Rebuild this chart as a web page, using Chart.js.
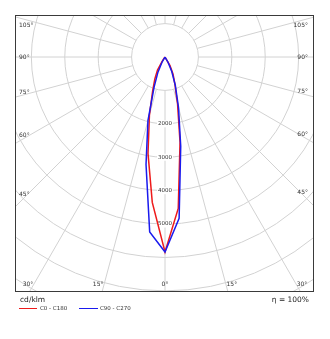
<!DOCTYPE html>
<html>
<head>
<meta charset="utf-8">
<script src="https://cdn.jsdelivr.net/npm/chart.js@4.4.1/dist/chart.umd.min.js"></script>
<style>
html,body{margin:0;padding:0;background:#fff;}
#wrap{width:330px;height:339px;}
</style>
</head>
<body>
<div id="wrap"><canvas id="polar" width="330" height="339"></canvas></div>
<script>
/* ========= DATA ========= */
// gamma angles (deg from nadir) and intensities in cd/klm
const GAMMA = [0, 5, 10, 15, 20, 25, 30, 35, 40];
const C0    = [5840, 4550, 2590, 1450, 870, 570, 300, 0, 0];    // right half, red
const C180  = [5840, 4370, 2930, 1800, 1080, 720, 450, 120, 0]; // left half, red
const C90   = [5840, 4850, 2710, 1560, 900, 480, 180, 0, 0];    // right half, blue
const C270  = [5840, 5260, 3270, 1970, 950, 500, 180, 0, 0];    // left half, blue

const SERIES_LABELS = ["C0 - C180", "C90 - C270"];
const RINGS = [1000, 2000, 3000, 4000, 5000, 6000, 7000, 8000];
const RING_LABELS = [2000, 3000, 4000, 5000];
const ANGLE_TICKS = [0, 15, 30, 45, 60, 75, 90, 105];
const UNIT = "cd/klm";
const ETA = "η = 100%";

/* ========= STYLE ========= */
const RED = "#ee1a1a";
const BLUE = "#1a1aee";
const GRID = "#d2d2d2";
const TXT = "#333";
const FONT = "DejaVu Sans";

/* ========= BUILD ========= */
function plane(right, left){
  const pts = [];
  for(let i = GAMMA.length - 1; i >= 0; i--){
    const g = GAMMA[i] * Math.PI / 180;
    pts.push({x: -left[i] * Math.sin(g), y: -left[i] * Math.cos(g)});
  }
  for(let i = 1; i < GAMMA.length; i++){
    const g = GAMMA[i] * Math.PI / 180;
    pts.push({x: right[i] * Math.sin(g), y: -right[i] * Math.cos(g)});
  }
  return pts;
}

/* ========= GRID / LABELS ========= */
const polarGrid = {
  id: "polarGrid",
  beforeDatasetsDraw(chart){
    const {ctx, chartArea: a, scales: {x, y}} = chart;
    const cx = x.getPixelForValue(0), cy = y.getPixelForValue(0);
    const rpx = v => x.getPixelForValue(v) - cx;
    ctx.save();
    ctx.beginPath();
    ctx.rect(a.left, a.top, a.right - a.left, a.bottom - a.top);
    ctx.clip();
    ctx.strokeStyle = GRID;
    ctx.lineWidth = 1;
    RINGS.forEach(r => {
      ctx.beginPath();
      ctx.arc(cx, cy, rpx(r), 0, Math.PI * 2);
      ctx.stroke();
    });
    const r0 = rpx(RINGS[0]), r1 = rpx(12000);
    for(let d = 0; d < 360; d += 15){
      const t = d * Math.PI / 180, sx = Math.sin(t), sy = Math.cos(t);
      ctx.beginPath();
      ctx.moveTo(cx + sx * r0, cy + sy * r0);
      ctx.lineTo(cx + sx * r1, cy + sy * r1);
      ctx.stroke();
    }
    ctx.font = "5.5px " + FONT;
    ctx.textAlign = "center";
    ctx.textBaseline = "middle";
    RING_LABELS.forEach(v => {
      const py = cy + rpx(v);
      const w = ctx.measureText(String(v)).width;
      ctx.fillStyle = "#fff";
      ctx.fillRect(cx - w / 2 - 1, py - 3.5, w + 2, 7);
      ctx.fillStyle = TXT;
      ctx.fillText(String(v), cx, py);
    });
    ctx.restore();
  },
  afterDatasetsDraw(chart){
    const {ctx, chartArea: a, scales: {x, y}} = chart;
    const cx = x.getPixelForValue(0), cy = y.getPixelForValue(0);
    ctx.save();
    // frame
    ctx.strokeStyle = "#3a3a3a";
    ctx.lineWidth = 1;
    ctx.strokeRect(a.left - 0.5, a.top - 0.5, a.right - a.left + 1, a.bottom - a.top + 1);

    // angle labels
    ctx.font = "6px " + FONT;
    ctx.fillStyle = TXT;
    ctx.textBaseline = "middle";
    const inL = a.left + 10, inR = a.right - 11, inB = a.bottom - 7;
    ANGLE_TICKS.forEach(deg => {
      [-1, 1].forEach(side => {
        if(deg === 0 && side === 1) return;
        const t = deg * Math.PI / 180;
        const dx = side * Math.sin(t), dy = Math.cos(t);
        const txt = deg + "°";
        const tSide = dx !== 0 ? ((side < 0 ? inL : inR) - cx) / dx : Infinity;
        const tBot = dy > 0 ? (inB - cy) / dy : Infinity;
        if(tBot < tSide){
          const px = cx + dx * tBot;
          ctx.textAlign = "center";
          ctx.fillText(txt, deg === 0 ? px : px + side * 6, inB);
        } else {
          let py = cy + dy * tSide;
          if(deg < 90) py -= 2;
          py = Math.max(py, a.top + 9);
          ctx.textAlign = side < 0 ? "left" : "right";
          ctx.fillText(txt, side < 0 ? a.left + 3 : a.right - 5, py);
        }
      });
    });

    // unit + efficiency
    ctx.font = "7.5px " + FONT;
    ctx.fillStyle = "#222";
    ctx.textAlign = "left";
    ctx.fillText(UNIT, a.left + 4, a.bottom + 9);
    ctx.textAlign = "right";
    ctx.fillText(ETA, a.right - 4, a.bottom + 9);

    // legend
    ctx.font = "5.5px " + FONT;
    ctx.textAlign = "left";
    const ly = a.bottom + 17;
    const items = [[a.left + 3, a.left + 21, a.left + 24], [a.left + 63, a.left + 82, a.left + 84]];
    chart.data.datasets.forEach((ds, i) => {
      const [x0, x1, tx] = items[i];
      ctx.strokeStyle = ds.borderColor;
      ctx.lineWidth = 1;
      ctx.beginPath();
      ctx.moveTo(x0, ly + 0.5);
      ctx.lineTo(x1, ly + 0.5);
      ctx.stroke();
      ctx.fillStyle = TXT;
      ctx.fillText(ds.label, tx, ly + 0.5);
    });
    ctx.restore();
  }
};

/* ========= CHART ========= */
new Chart(document.getElementById("polar"), {
  type: "scatter",
  data: {
    datasets: [
      {label: SERIES_LABELS[0], data: plane(C0, C180), borderColor: RED, order: 1},
      {label: SERIES_LABELS[1], data: plane(C90, C270), borderColor: BLUE, order: 0}
    ].map(d => Object.assign(d, {showLine: true, pointRadius: 0, borderWidth: 1.5, tension: 0, fill: false}))
  },
  options: {
    responsive: false,
    animation: false,
    devicePixelRatio: 1,
    layout: {padding: {left: 16, top: 16, right: 17, bottom: 48}},
    plugins: {legend: {display: false}, tooltip: {enabled: false}},
    scales: {
      x: {type: "linear", min: -4460, max: 4430, display: false},
      y: {type: "linear", min: -7006, max: 1228, display: false}
    }
  },
  plugins: [polarGrid]
});
</script>
</body>
</html>
